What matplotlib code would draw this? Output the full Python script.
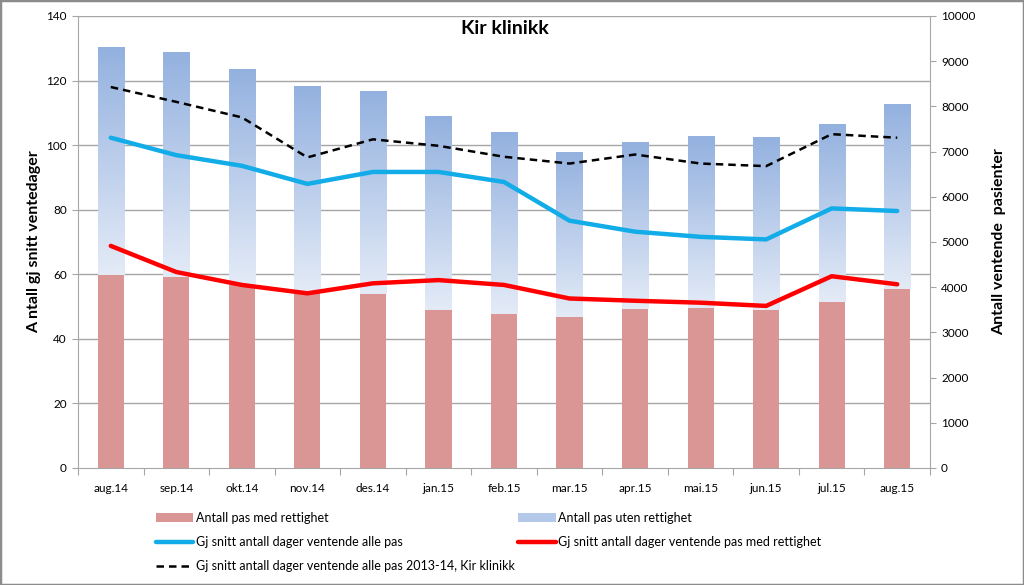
import matplotlib

matplotlib.use("Agg")
import matplotlib.pyplot as plt
import numpy as np
from matplotlib.colors import LinearSegmentedColormap
from matplotlib.lines import Line2D
from matplotlib.patches import Patch, Rectangle

plt.rcParams["font.family"] = ["Lato", "DejaVu Sans"]

months = ["aug.14", "sep.14", "okt.14", "nov.14", "des.14", "jan.15", "feb.15",
          "mar.15", "apr.15", "mai.15", "jun.15", "jul.15", "aug.15"]
pas_med_rett = [4270, 4220, 4040, 3880, 3840, 3500, 3410, 3330, 3520, 3550, 3490, 3670, 3950]
pas_uten_rett = [5040, 4980, 4780, 4580, 4510, 4280, 4020, 3670, 3690, 3800, 3840, 3950, 4100]
snitt_alle = [102.3, 96.9, 93.6, 88.0, 91.7, 91.7, 88.6, 76.6, 73.2, 71.6, 70.8, 80.4, 79.6]
snitt_med_rett = [68.8, 60.7, 56.7, 54.1, 57.2, 58.2, 56.7, 52.5, 51.8, 51.2, 50.2, 59.4, 56.9]
snitt_2013_14 = [118.0, 113.4, 108.6, 96.2, 101.8, 99.8, 96.4, 94.3, 97.1, 94.3, 93.5, 103.4, 102.3]
left_ticks = [0, 20, 40, 60, 80, 100, 120, 140]
right_ticks = [0, 1000, 2000, 3000, 4000, 5000, 6000, 7000, 8000, 9000, 10000]

RED_BAR = "#d99694"
BLUE_LINE = "#12ace8"
RED_LINE = "#ff0000"
GRID = "#a6a6a6"
grad_cmap = LinearSegmentedColormap.from_list("bl", ["#e4ebf7", "#93b1df"])

fig = plt.figure(figsize=(10.24, 5.85), dpi=100)
fig.patches.append(Rectangle((0, 0), 1, 1, transform=fig.transFigure, fill=False,
                             edgecolor="#8c8c8c", linewidth=2.5))

# bars on the base axes (right scale), lines on a twin (left scale)
ax = fig.add_axes([78 / 1024, 117 / 585, 852 / 1024, 452 / 585])
ax2 = ax.twinx()
x = np.arange(len(months))

scale = 10000 / 140
for t in left_ticks[1:]:
    ax.axhline(t * scale, color=GRID, linewidth=1.0, zorder=0)

bars_med = ax.bar(x, pas_med_rett, width=0.4, color=RED_BAR, zorder=2)
bars_uten = ax.bar(x, pas_uten_rett, width=0.4, bottom=pas_med_rett, color="none", zorder=2)
grad = np.linspace(0, 1, 256).reshape(-1, 1)
for b in bars_uten:
    x0, y0 = b.get_x(), b.get_y()
    im = ax.imshow(grad, cmap=grad_cmap, origin="lower", aspect="auto", zorder=2,
                   extent=[x0, x0 + b.get_width(), y0, y0 + b.get_height()])
    im.set_clip_path(b)
ax.set_xlim(-0.5, len(months) - 0.5)
ax.set_ylim(0, 10000)

ax.yaxis.tick_right()
ax.yaxis.set_label_position("right")
ax.set_yticks(right_ticks)
ax.set_ylabel("Antall ventende  pasienter", fontsize=11.5, fontweight="bold", labelpad=12)
ax.set_xticks(np.arange(len(months) + 1) - 0.5, minor=False)
ax.set_xticklabels([])
ax.set_xticks(x, minor=True)
ax.set_xticklabels(months, minor=True, fontsize=8.5)
ax.tick_params(axis="x", which="major", length=5, color=GRID)
ax.tick_params(axis="x", which="minor", length=0, pad=11)
ax.tick_params(axis="y", length=4, color=GRID, labelsize=8.5, pad=4)
for side in ["top", "left"]:
    ax.spines[side].set_visible(False)
for side in ["bottom", "right"]:
    ax.spines[side].set_color(GRID)

ax2.yaxis.tick_left()
ax2.yaxis.set_label_position("left")
ax2.set_ylim(0, 140)
ax2.set_yticks(left_ticks)
ax2.tick_params(axis="y", length=4, color=GRID, labelsize=8.5, pad=4)
ax2.set_ylabel("A ntall gj snitt ventedager", fontsize=11.5, fontweight="bold", labelpad=4)
for side in ["top", "right", "bottom"]:
    ax2.spines[side].set_visible(False)
ax2.spines["left"].set_color(GRID)

ax2.plot(x, snitt_2013_14, color="black", linewidth=1.8, linestyle=(0, (3, 2)))
ax2.plot(x, snitt_alle, color=BLUE_LINE, linewidth=3.2, solid_capstyle="round")
ax2.plot(x, snitt_med_rett, color=RED_LINE, linewidth=3.2, solid_capstyle="round")

fig.text(0.493, 0.952, "Kir klinikk", ha="center", va="center", fontsize=14, fontweight="bold")

handles = [
    Patch(facecolor=RED_BAR),
    Line2D([], [], color=BLUE_LINE, linewidth=3.2, solid_capstyle="round"),
    Line2D([], [], color="black", linewidth=1.8, linestyle=(0, (3, 2))),
    Patch(facecolor="#b4c8ea"),
    Line2D([], [], color=RED_LINE, linewidth=3.2, solid_capstyle="round"),
]
labels = [
    "Antall pas med rettighet",
    "Gj snitt antall dager ventende alle pas",
    "Gj snitt antall dager ventende alle pas 2013-14, Kir klinikk",
    "Antall pas uten rettighet",
    "Gj snitt antall dager ventende pas med rettighet",
]
fig.legend(handles, labels, ncol=2, loc="upper left", bbox_to_anchor=(0.147, 0.133),
           frameon=False, fontsize=9, handlelength=3.0, handletextpad=0.2,
           columnspacing=0.3, labelspacing=0.95, borderaxespad=0)

fig.savefig("out.png", dpi=100)
